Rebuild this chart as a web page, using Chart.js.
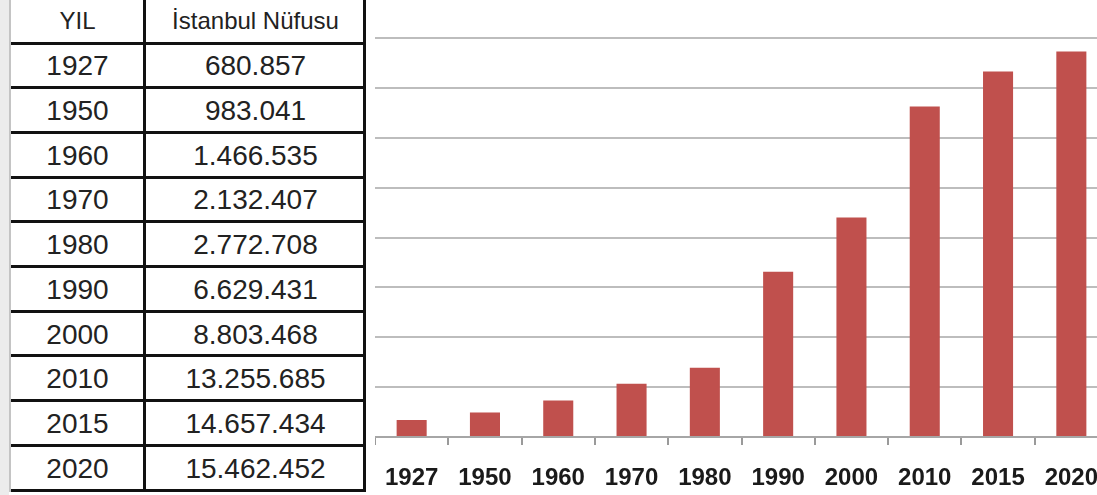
<!DOCTYPE html>
<html>
<head>
<meta charset="utf-8">
<script src="https://cdn.jsdelivr.net/npm/chart.js@4.4.1/dist/chart.umd.min.js"></script>
<style>
  html, body { margin: 0; padding: 0; background: #ffffff; width: 1097px; height: 495px; overflow: hidden; position: relative; }
  #leftStrip { position: absolute; left: 0; top: 0; width: 9px; height: 495px; background: #ececec; }
  #leftBorder { position: absolute; left: 9px; top: 0; width: 2px; height: 492px; background: #c4c4c4; }
  .hline { position: absolute; left: 11px; width: 355px; height: 3px; background: #111; }
  .vline { position: absolute; top: 0; width: 3px; height: 492px; background: #111; }
  .cell { position: absolute; display: flex; align-items: center; justify-content: center;
          font-family: "Liberation Sans", Arial, sans-serif; color: #222; white-space: nowrap; }
  #chartWrap { position: absolute; left: 375px; top: 0; width: 733px; height: 495px; }
</style>
</head>
<body>
<div id="leftStrip"></div>
<div id="leftBorder"></div>
<div id="table"></div>
<div id="chartWrap"><canvas id="c"></canvas></div>
<script>
// ---- data ----
const headers = ['YIL', 'İstanbul Nüfusu'];
const years = ['1927', '1950', '1960', '1970', '1980', '1990', '2000', '2010', '2015', '2020'];
const population = [680857, 983041, 1466535, 2132407, 2772708, 6629431, 8803468, 13255685, 14657434, 15462452];

function fmt(n) { return String(n).replace(/\B(?=(\d{3})+(?!\d))/g, '.'); }

// ---- table ----
const tbl = document.getElementById('table');
const rowTop0 = 43, rowH = 44.7;
const col1 = [11, 144], col2 = [147, 364];
function addCell(text, x0, x1, y0, y1, size) {
  const d = document.createElement('div');
  d.className = 'cell';
  d.style.left = x0 + 'px'; d.style.width = (x1 - x0) + 'px';
  d.style.top = y0 + 'px'; d.style.height = (y1 - y0) + 'px';
  d.style.fontSize = size + 'px';
  d.textContent = text;
  tbl.appendChild(d);
}
addCell(headers[0], col1[0], col1[1], -2, rowTop0, 24);
addCell(headers[1], col2[0], col2[1], -2, rowTop0, 24);
for (let i = 0; i < years.length; i++) {
  const y0 = rowTop0 + i * rowH + 2, y1 = rowTop0 + (i + 1) * rowH;
  addCell(years[i], col1[0], col1[1], y0, y1, 28);
  addCell(fmt(population[i]), col2[0], col2[1], y0, y1, 28);
}
for (let i = 0; i <= years.length; i++) {
  const h = document.createElement('div');
  h.className = 'hline';
  h.style.top = (rowTop0 + i * rowH - 1.5) + 'px';
  tbl.appendChild(h);
}
[143, 363].forEach(x => {
  const v = document.createElement('div');
  v.className = 'vline';
  v.style.left = x + 'px';
  tbl.appendChild(v);
});

// ---- chart ----
new Chart(document.getElementById('c'), {
  type: 'bar',
  data: {
    labels: years,
    datasets: [{
      data: population,
      backgroundColor: '#C0504D',
      borderWidth: 0,
      barPercentage: 0.41,
      categoryPercentage: 1.0
    }]
  },
  options: {
    responsive: true,
    maintainAspectRatio: false,
    devicePixelRatio: 1,
    animation: false,
    layout: { padding: { top: 38, left: 0, right: 0, bottom: 0 } },
    plugins: { legend: { display: false }, tooltip: { enabled: false } },
    scales: {
      x: {
        offset: true,
        grid: { display: true, drawOnChartArea: false, drawTicks: true, tickLength: 8, color: '#9a9a9a', lineWidth: 2, offset: true },
        border: { display: true, color: '#a6a6a6', width: 2 },
        ticks: { color: '#1a1a1a', padding: 0, font: { family: '"Liberation Sans", Arial, sans-serif', size: 24, weight: 'bold', lineHeight: 2.75 }, maxRotation: 0, autoSkip: false },
        afterFit: s => { s.height = 58; }
      },
      y: {
        min: 0, max: 16000000,
        ticks: { display: false, stepSize: 2000000 },
        grid: { color: '#bdbdbd', lineWidth: 2, drawTicks: false },
        border: { display: false },
        afterFit: s => { s.width = 0; }
      }
    }
  }
});
</script>
</body>
</html>
